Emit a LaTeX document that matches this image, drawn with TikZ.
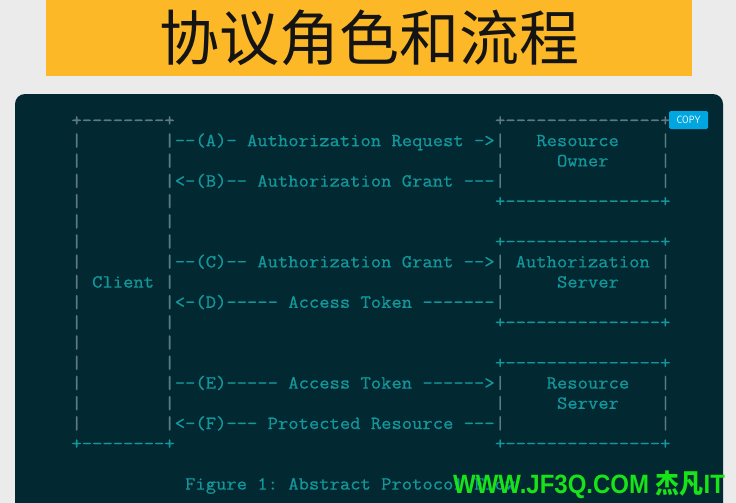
\documentclass[tikz,border=0pt]{standalone}
\usepackage{fontspec}
\setmainfont{Liberation Sans}
\setmonofont{Latin Modern Mono}[FakeStretch=1.083,FakeBold=0.8]
\newfontfamily\cjk{Noto Sans CJK SC}
\usepackage{graphicx}
\definecolor{bg}{RGB}{235,235,235}
\definecolor{banner}{RGB}{252,184,38}
\definecolor{panel}{RGB}{2,40,50}
\definecolor{tl}{RGB}{18,152,154}
\definecolor{gr}{RGB}{92,122,130}
\definecolor{copyblue}{RGB}{0,166,224}
\definecolor{wm}{RGB}{24,226,24}
\newcommand\asc[4]{\node[txt,text=#3] (a#2x#1) at ({71.5+#1*10.33},{126+#2*20.2}) {#4};}
\begin{document}
\begin{tikzpicture}[x=1pt,y=-1pt,
  txt/.style={inner sep=0pt,outer sep=0pt,anchor=base west,
    font=\fontsize{18.5}{20}\selectfont\ttfamily\frenchspacing},
  titlestyle/.style={inner sep=0pt,text=black!92,font=\fontsize{60}{66}\selectfont\cjk},
  copybtn/.style={fill=copyblue,rounded corners=1.5pt,minimum width=39pt,minimum height=18pt,
    inner sep=0pt,text=white,font=\fontsize{10.5}{11}\selectfont\sffamily}]
\useasboundingbox (0,0) rectangle (736,503);
\clip (0,0) rectangle (736,503);
\fill[bg] (0,0) rectangle (736,503);
\fill[banner] (46,-1) rectangle (692,76);
\node[titlestyle] (title) at (369,38) {协议角色和流程};
\fill[panel,rounded corners=10pt] (15,94) rectangle (723,540);
\node[copybtn] (copy) at (688.5,120) {\scalebox{0.85}[1]{COPY}};
% top line (gray)
\asc{0}{0}{gr}{+--------+}
\asc{41}{0}{gr}{+---------------+}
% vertical bars of client
\foreach \i in {1,...,15}{\asc{0}{\i}{gr}{|}\asc{9}{\i}{gr}{|}}
% vertical bars of right boxes
\foreach \i in {1,2,3,7,8,9,13,14,15}{\asc{41}{\i}{gr}{|}\asc{57}{\i}{gr}{|}}
% box edges
\asc{41}{4}{tl}{+---------------+}
\asc{41}{6}{tl}{+---------------+}
\asc{41}{10}{tl}{+---------------+}
\asc{41}{12}{tl}{+---------------+}
\asc{0}{16}{tl}{+--------+}
\asc{41}{16}{tl}{+---------------+}
% labels
\asc{10}{1}{tl}{--(A)- Authorization Request ->}
\asc{45}{1}{tl}{Resource}
\asc{47}{2}{tl}{Owner}
\asc{10}{3}{tl}{<-(B)-- Authorization Grant ---}
\asc{10}{7}{tl}{--(C)-- Authorization Grant -->}
\asc{43}{7}{tl}{Authorization}
\asc{2}{8}{tl}{Client}
\asc{47}{8}{tl}{Server}
\asc{10}{9}{tl}{<-(D)----- Access Token -------}
\asc{10}{13}{tl}{--(E)----- Access Token ------>}
\asc{46}{13}{tl}{Resource}
\asc{47}{14}{tl}{Server}
\asc{10}{15}{tl}{<-(F)--- Protected Resource ---}
\asc{11}{18}{tl}{Figure 1: Abstract Protocol Flow}
% watermark
\node[inner sep=0pt,anchor=base west,text=wm] (wmark) at (453,493)
  {\scalebox{0.905}[1]{\fontsize{26.5}{30}\selectfont\bfseries WWW.JF3Q.COM {\cjk\bfseries 杰凡}IT}};
\end{tikzpicture}
\end{document}
